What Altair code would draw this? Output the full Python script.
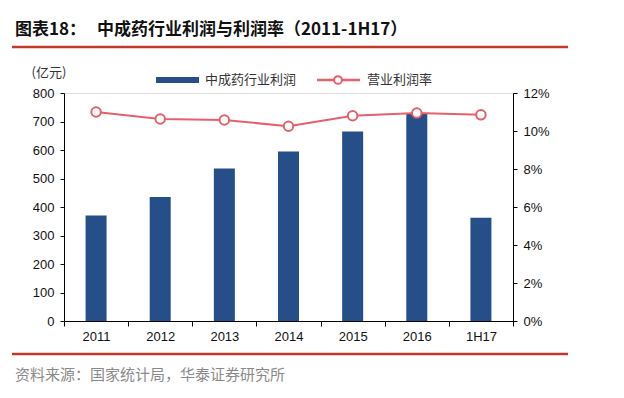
import altair as alt
import pandas as pd

categories = ["2011", "2012", "2013", "2014", "2015", "2016", "1H17"]
profit = [370, 435, 535, 595, 665, 730, 362]
margin = [0.110, 0.1063, 0.1058, 0.1025, 0.1080, 0.1095, 0.1085]

df = pd.DataFrame({"cat": categories, "profit": profit, "margin": margin})
one = pd.DataFrame({"a": [0]})

W, H = 449, 228
BAR = "#264E89"
LINE = "#E4606B"
RED = "#C0392B"
CJK = "Noto Sans CJK SC"
LAT = "Liberation Sans"

x_enc = alt.X("cat:N", sort=categories, title=None,
              scale=alt.Scale(paddingInner=0, paddingOuter=0),
              axis=alt.Axis(labelAngle=0, tickBand="extent", domainColor="#000",
                            tickColor="#000", tickSize=5, labelFont=LAT,
                            labelFontSize=13, labelColor="#111", labelPadding=4))

bars = alt.Chart(df).mark_bar(size=21, color=BAR).encode(
    x=x_enc,
    y=alt.Y("profit:Q", title=None,
            scale=alt.Scale(domain=[0, 800], nice=False),
            axis=alt.Axis(values=list(range(0, 801, 100)), grid=False,
                          domainColor="#000", tickColor="#000", tickSize=4,
                          labelFont=LAT, labelFontSize=13, labelColor="#111",
                          labelPadding=6, orient="left")),
)

line = alt.Chart(df).mark_line(color=LINE, strokeWidth=2).encode(
    x=alt.X("cat:N", sort=categories),
    y=alt.Y("margin:Q", title=None,
            scale=alt.Scale(domain=[0, 0.12], nice=False),
            axis=alt.Axis(values=[0, 0.02, 0.04, 0.06, 0.08, 0.10, 0.12],
                          format=".0%", grid=False, orient="right",
                          domainColor="#000", tickColor="#000", tickSize=4,
                          labelFont=LAT, labelFontSize=13, labelColor="#111",
                          labelPadding=6)),
)
pts = alt.Chart(df).mark_point(filled=True, fill="white", stroke=LINE,
                               strokeWidth=2, size=90, opacity=1).encode(
    x=alt.X("cat:N", sort=categories),
    y=alt.Y("margin:Q", scale=alt.Scale(domain=[0, 0.12], nice=False), axis=None),
)

def txt(s, x, y, size=12, color="#333", weight="normal", font=CJK, align="left"):
    return alt.Chart(one).mark_text(text=s, font=font, fontSize=size, color=color,
                                    fontWeight=weight, align=align,
                                    baseline="middle").encode(
        x=alt.value(x), y=alt.value(y))

def hrule(x1, x2, y, color, w):
    return alt.Chart(one).mark_rule(color=color, strokeWidth=w).encode(
        x=alt.value(x1), x2=alt.value(x2), y=alt.value(y))

title1 = txt("图表18：", -49, -63, size=17, color="#111", weight="bold")
title2 = txt("中成药行业利润与利润率（2011-1H17）", 33, -63, size=17,
             color="#111", weight="bold")
top_rule = hrule(-52, 504, -46, RED, 2.5)
bot_rule = hrule(-52, 504, 261, RED, 2.5)
source = txt("资料来源：国家统计局，华泰证券研究所", -49, 282, size=15, color="#8a8a8a")
unit = txt("(亿元)", -15, -20, size=13, color="#333", align="center")

leg_bar = alt.Chart(one).mark_rect(color=BAR).encode(
    x=alt.value(92), x2=alt.value(135), y=alt.value(-16), y2=alt.value(-10))
leg_bar_t = txt("中成药行业利润", 141, -13, size=13, color="#333")
leg_line = hrule(253, 296, -13, LINE, 2.5)
leg_pt = alt.Chart(one).mark_point(filled=True, fill="white", stroke=LINE,
                                   strokeWidth=2, size=60, opacity=1).encode(
    x=alt.value(274), y=alt.value(-13))
leg_line_t = txt("营业利润率", 303, -13, size=13, color="#333")

main = alt.layer(bars, line, pts).resolve_scale(y="independent")

chart = alt.layer(main, title1, title2, top_rule, bot_rule, source, unit,
                  leg_bar, leg_bar_t, leg_line, leg_pt, leg_line_t).properties(
    width=W, height=H,
    autosize=alt.AutoSizeParams(type="none"),
    padding={"left": 56, "top": 85, "right": 103, "bottom": 69},
).configure_view(stroke=None).configure(background="white")

chart.save("out.html", embed_options={"renderer": "svg", "actions": False})
